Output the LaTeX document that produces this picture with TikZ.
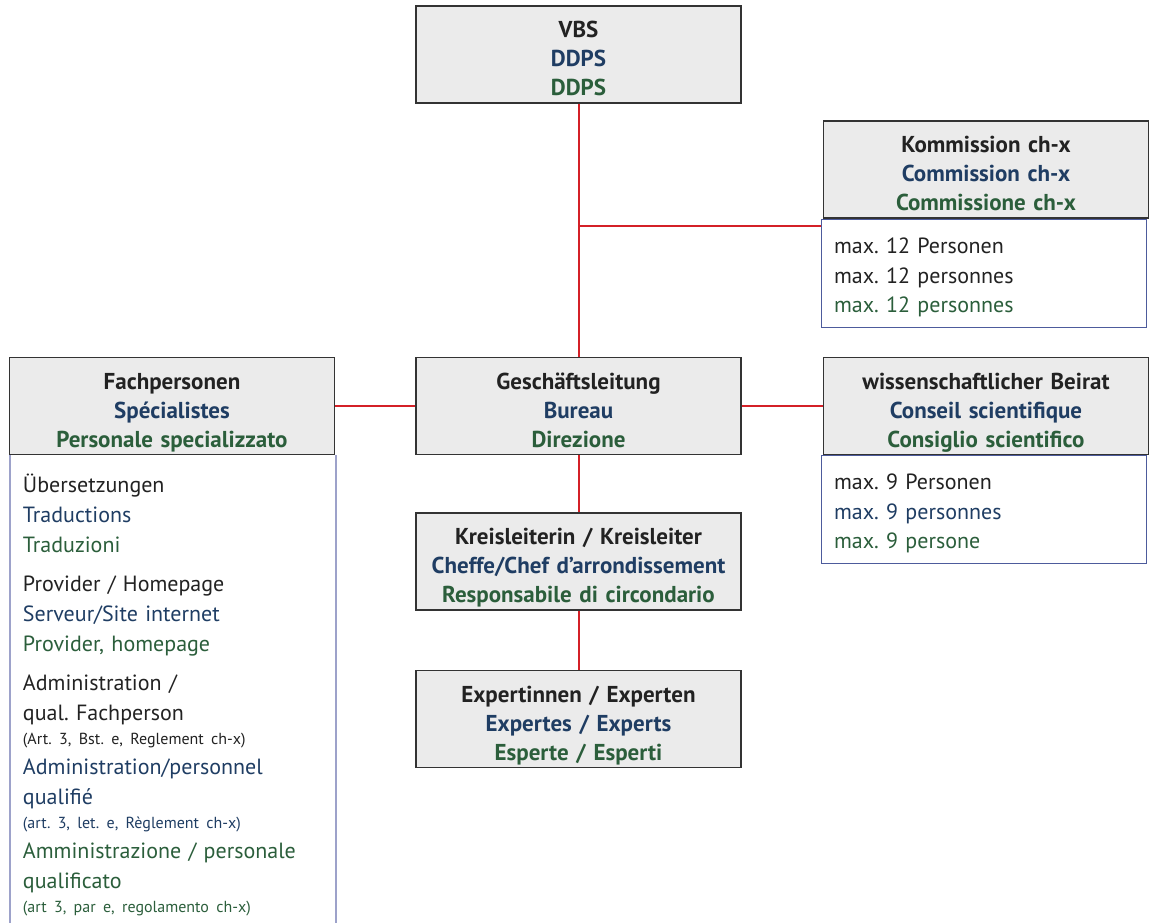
\documentclass[tikz,border=0pt]{standalone}
\usepackage{fontspec}
\setmainfont{PT Sans}
\usetikzlibrary{positioning}
\definecolor{hdrfill}{HTML}{EBEBEB}
\definecolor{hdrline}{HTML}{333333}
\definecolor{deblack}{HTML}{222222}
\definecolor{frblue}{HTML}{1F3D63}
\definecolor{itgreen}{HTML}{2B5E3B}
\definecolor{orgred}{HTML}{D42027}
\definecolor{lowline}{HTML}{4D5B9C}
\definecolor{lowlineL}{HTML}{9DA2CA}
\newcommand{\langfr}[1]{{\color{frblue}#1}}
\newcommand{\langit}[1]{{\color{itgreen}#1}}
\newcommand{\smalltxt}{\fontsize{16}{20}\selectfont}
\frenchspacing
\tikzset{
  header/.style={draw=hdrline, line width=1.5pt, fill=hdrfill, minimum width=325pt,
    minimum height=97pt, text width=325pt, align=center, inner sep=0pt, text=deblack,
    font=\fontsize{23}{29}\selectfont\bfseries,
    execute at begin node={\rule{0pt}{31.5pt}},
    execute at end node={\rule[-7.5pt]{0pt}{7.5pt}}},
  members/.style={draw=lowline, line width=1.2pt, fill=white, minimum width=325pt,
    minimum height=108pt, text width=300pt, align=left, inner xsep=12.5pt,
    inner ysep=0pt, text=deblack, font=\fontsize{22}{29.5}\selectfont,
    execute at begin node={\rule{0pt}{34pt}},
    execute at end node={\rule[-15pt]{0pt}{15pt}}},
  orgline/.style={draw=orgred, line width=2pt},
}
\begin{document}
\begin{tikzpicture}[x=1pt,y=-1pt]
  \useasboundingbox (0,0) rectangle (1151,923);
  % lower boxes
  \node[members, anchor=north] (kommlow) at (984,219) {max. 12 Personen\\ max. 12 personnes\\ \langit{max. 12 personnes}};
  \node[members, anchor=north] (beiratlow) at (984,455) {max. 9 Personen\\ \langfr{max. 9 personnes}\\ \langit{max. 9 persone}};
  \node[members, draw=none, fill=none, minimum height=0pt, inner ysep=0pt, font=\fontsize{22}{30}\selectfont, anchor=north,
    execute at begin node={\rule{0pt}{37pt}}, execute at end node={}] (fachlow) at (173,455) {%
    Übersetzungen\\ \langfr{Traductions}\\ \langit{Traduzioni}\\[9pt]
    Provider / Homepage\\ \langfr{Serveur/Site internet}\\ \langit{Provider, homepage}\\[9pt]
    Administration /\\ qual. Fachperson\\[-6pt] {\smalltxt (Art. 3, Bst. e, Reglement ch-x)}\\
    \langfr{Administration/personnel\\ qualifié\\[-6pt] {\smalltxt (art. 3, let. e, Règlement ch-x)}}\\
    \langit{Amministrazione / personale\\ qualificato\\[-6pt] {\smalltxt (art 3, par e, regolamento ch-x)}}};
  \draw[draw=lowlineL, line width=2pt] (fachlow.north west) -- ++(0,-520pt)
    (fachlow.north east) -- ++(0,-520pt);
  % header boxes
  \node[header] (gl) at (578.5,406) {Geschäftsleitung\\ \langfr{Bureau}\\ \langit{Direzione}};
  \node[header, above=253pt of gl] (vbs) {VBS\\ \langfr{DDPS}\\ \langit{DDPS}};
  \node[header, left=80pt of gl] (fach) {Fachpersonen\\ \langfr{Spécialistes}\\ \langit{Personale specializzato}};
  \node[header, right=81pt of gl] (beirat) {wissenschaftlicher Beirat\\ \langfr{Conseil scientifique}\\ \langit{Consiglio scientifico}};
  \node[header, above=138pt of beirat] (komm) {Kommission ch-x\\ \langfr{Commission ch-x}\\ \langit{Commissione ch-x}};
  \node[header, below=57pt of gl] (kreis) {Kreisleiterin / Kreisleiter\\ \langfr{Cheffe/Chef d’arrondissement}\\ \langit{Responsabile di circondario}};
  \node[header, below=59pt of kreis] (exp) {Expertinnen / Experten\\ \langfr{Expertes / Experts}\\ \langit{Esperte / Esperti}};
  % connectors
  \draw[orgline] (vbs) -- (gl);
  \draw[orgline] (kommlow.north west) ++(0,-7pt) -| (gl.north);
  \draw[orgline] (fach) -- (gl);
  \draw[orgline] (gl) -- (beirat);
  \draw[orgline] (gl) -- (kreis);
  \draw[orgline] (kreis) -- (exp);
\end{tikzpicture}
\end{document}
